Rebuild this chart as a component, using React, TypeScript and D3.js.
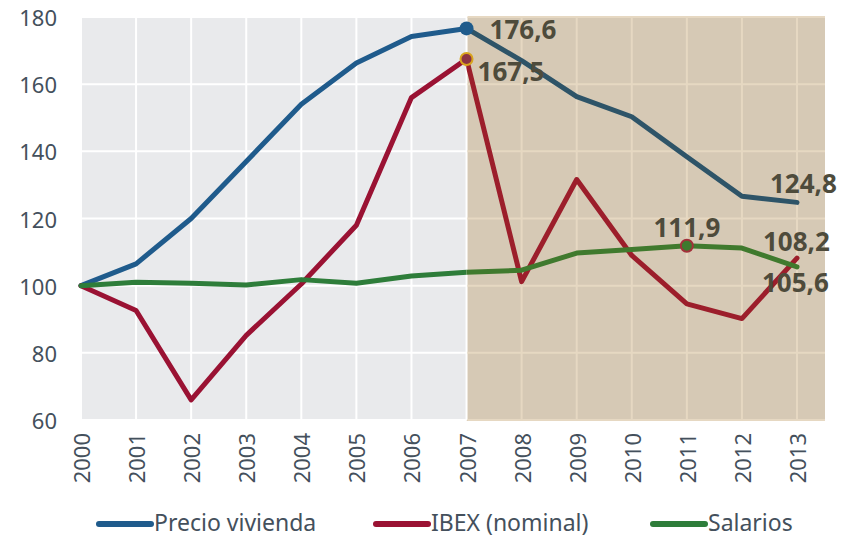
import React from "react";
import * as d3 from "d3";

const years = [2000, 2001, 2002, 2003, 2004, 2005, 2006, 2007, 2008, 2009, 2010, 2011, 2012, 2013];
const precioVivienda = [100, 106.5, 120, 137, 154, 166.3, 174.2, 176.6, 167, 156.3, 150.3, 138.4, 126.6, 124.8];
const ibexNominal = [100, 92.6, 66, 85.2, 100.5, 118, 156, 167.5, 101.2, 131.6, 109, 94.6, 90.2, 108.2];
const salarios = [100, 101, 100.7, 100.2, 101.8, 100.7, 102.9, 104, 104.6, 109.7, 110.8, 111.9, 111.2, 105.6];
const yTicks = [60, 80, 100, 120, 140, 160, 180];
const seriesNames = ["Precio vivienda", "IBEX (nominal)", "Salarios"];
const splitYear = 2007;

const W = 851;
const H = 540;

export default function App() {
  const x = d3.scaleLinear().domain([2000, 2013]).range([81, 797]);
  const y = d3.scaleLinear().domain([60, 180]).range([420, 17]);
  const bgRight = 825;
  const xs = x(splitYear);

  const series = [
    { name: seriesNames[0], values: precioVivienda, left: "#1F5B8C", right: "#2E5468" },
    { name: seriesNames[1], values: ibexNominal, left: "#9A1233", right: "#9C1E2B" },
    { name: seriesNames[2], values: salarios, left: "#2E7D3A", right: "#407A2E" },
  ];

  const line = d3
    .line<number>()
    .x((_, i) => x(years[i]))
    .y((d) => y(d));

  const idx2007 = years.indexOf(2007);
  const idx2011 = years.indexOf(2011);
  const idx2013 = years.indexOf(2013);

  const labelStyle = {
    fontFamily: "'Noto Sans', 'Open Sans', sans-serif",
    fontWeight: 700,
    fontSize: 26,
    fill: "#4E4B3B",
  } as const;

  const tickFont = "'Noto Sans', 'Open Sans', sans-serif";

  const fmt = (v: number) => v.toFixed(1).replace(".", ",");

  const legendY = 522;

  return (
    <svg width={W} height={H} style={{ position: "absolute", left: 0, top: 0 }}>
      <defs>
        <clipPath id="leftClip">
          <rect x={0} y={0} width={xs} height={H} />
        </clipPath>
        <clipPath id="rightClip">
          <rect x={xs} y={0} width={W - xs} height={H} />
        </clipPath>
      </defs>
      {/* backgrounds */}
      <rect x={x(2000)} y={y(180)} width={xs - x(2000)} height={y(60) - y(180)} fill="#E9EAEC" />
      <rect x={xs} y={y(180)} width={bgRight - xs} height={y(60) - y(180) + 1} fill="#D6C9B5" />
      {/* grid left */}
      {yTicks.map((t) => (
        <line key={"hl" + t} x1={x(2000)} x2={xs} y1={y(t)} y2={y(t)} stroke="#FFFFFF" strokeWidth={2} />
      ))}
      {years.filter((yr) => yr <= splitYear).map((yr) => (
        <line key={"vl" + yr} x1={x(yr)} x2={x(yr)} y1={y(180)} y2={y(60)} stroke="#FFFFFF" strokeWidth={2} />
      ))}
      {/* grid right */}
      {yTicks.map((t) => (
        <line key={"hr" + t} x1={xs + 1} x2={bgRight} y1={y(t)} y2={y(t)} stroke="#E6D8C2" strokeWidth={2} />
      ))}
      {years.filter((yr) => yr > splitYear).map((yr) => (
        <line key={"vr" + yr} x1={x(yr)} x2={x(yr)} y1={y(180)} y2={y(60) + 1} stroke="#E6D8C2" strokeWidth={2} />
      ))}
      {/* y tick labels */}
      {yTicks.map((t) => (
        <text
          key={"yt" + t}
          x={57}
          y={y(t)}
          textAnchor="end"
          dominantBaseline="central"
          fontFamily={tickFont}
          fontSize={22}
          fill="#44505C"
        >
          {t}
        </text>
      ))}
      {/* x tick labels */}
      {years.map((yr) => (
        <text
          key={"xt" + yr}
          transform={`translate(${x(yr)},433) rotate(-90)`}
          textAnchor="end"
          dominantBaseline="central"
          fontFamily={tickFont}
          fontSize={22}
          fill="#44505C"
        >
          {yr}
        </text>
      ))}
      {/* series lines */}
      {series.map((s) => (
        <g key={s.name}>
          <path d={line(s.values) || ""} fill="none" stroke={s.left} strokeWidth={5} strokeLinejoin="round" strokeLinecap="round" clipPath="url(#leftClip)" />
          <path d={line(s.values) || ""} fill="none" stroke={s.right} strokeWidth={5} strokeLinejoin="round" strokeLinecap="round" clipPath="url(#rightClip)" />
        </g>
      ))}
      {/* markers */}
      <circle cx={x(2007)} cy={y(precioVivienda[idx2007])} r={7} fill="#1F5B8C" />
      <circle cx={x(2007)} cy={y(ibexNominal[idx2007])} r={6} fill="#8C3343" stroke="#D9A41E" strokeWidth={2} />
      <circle cx={x(2011)} cy={y(salarios[idx2011])} r={6} fill="#3F7A2E" stroke="#A3303A" strokeWidth={2} />
      {/* value labels */}
      <text x={x(2007) + 23} y={y(precioVivienda[idx2007]) + 11} {...labelStyle}>{fmt(precioVivienda[idx2007])}</text>
      <text x={x(2007) + 11} y={y(ibexNominal[idx2007]) + 22} {...labelStyle}>{fmt(ibexNominal[idx2007])}</text>
      <text x={x(2011)} y={y(salarios[idx2011]) - 9} textAnchor="middle" {...labelStyle}>{fmt(salarios[idx2011])}</text>
      <text x={x(2013) - 27} y={y(precioVivienda[idx2013]) - 9} {...labelStyle}>{fmt(precioVivienda[idx2013])}</text>
      <text x={x(2013) - 34} y={y(ibexNominal[idx2013]) - 7} {...labelStyle}>{fmt(ibexNominal[idx2013])}</text>
      <text x={x(2013) - 35} y={y(salarios[idx2013]) + 25} {...labelStyle}>{fmt(salarios[idx2013])}</text>
      {/* legend */}
      {series.map((s, i) => {
        const lx = [96, 373, 650][i];
        return (
          <g key={"lg" + s.name}>
            <line x1={lx + 3} x2={lx + 55} y1={legendY + 2} y2={legendY + 2} stroke={s.left} strokeWidth={6} strokeLinecap="round" />
            <text x={lx + 58} y={legendY} dominantBaseline="central" fontFamily={tickFont} fontSize={23} fill="#44505C">
              {s.name}
            </text>
          </g>
        );
      })}
    </svg>
  );
}
